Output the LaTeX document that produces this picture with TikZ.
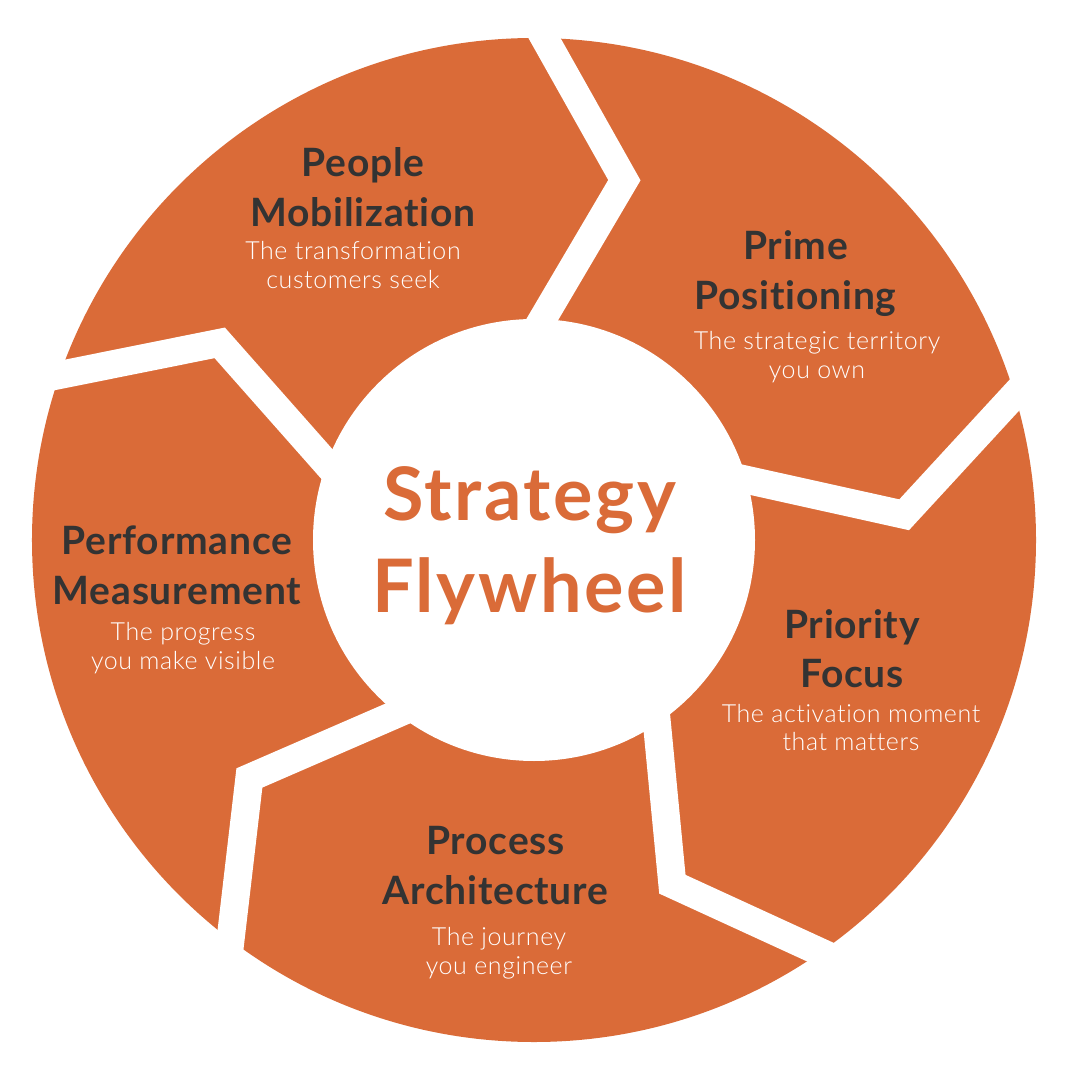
\documentclass[tikz,border=0pt]{standalone}
\usepackage{fontspec}
\setmainfont{Lato}
\newfontfamily\headfont{Lato}[LetterSpace=2, Ligatures=NoCommon]
\newfontfamily\hubfont{Lato}[LetterSpace=3.5, Ligatures=NoCommon]
\newfontfamily\lightfont{Lato Light}[LetterSpace=2.4, Ligatures=NoCommon]
\usepackage{xcolor}
\usepackage{tikz}
\usetikzlibrary{calc}

\definecolor{wheelorange}{RGB}{218,107,56}
\definecolor{labelgrey}{RGB}{51,51,51}

\begin{document}
\begin{tikzpicture}[
    headline/.style={font=\headfont\bfseries\fontsize{11.1}{14.2}\selectfont, text=labelgrey, align=center, inner sep=0pt},
    tagline/.style={font=\lightfont\fontsize{7.1}{8.2}\selectfont, text=white, align=center, inner sep=0pt},
    gapline/.style={white, line width=2.8mm, line join=miter}]
    \useasboundingbox (-5.34,-5.40) rectangle (5.46,5.40);
    \fill[wheelorange] (0,0) circle (5.02);
    % chevron gaps between the five segments
    \foreach \a in {88.8,16.8,-55.2,-127.2,160.8} {
        \coordinate (tip) at (\a-12.9:3.71);
        \draw[gapline] ($(tip)!1.3!(\a:5.02)$) -- (tip) -- ($(tip)!1.3!(\a-1:2.21)$);
    }
    \fill[white] (0,0) circle (2.21);
    \node[font=\hubfont\bfseries\fontsize{21}{26.1}\selectfont, text=wheelorange, align=center, inner sep=0pt] (hub) at (-0.045,-0.06) {Strategy\\Flywheel};

    \node[headline] (people) at (-1.71,3.53) {People\\Mobilization};
    \node[tagline] (peoplesub) at (-1.81,2.75) {The transformation\\customers seek};
    \node[headline] (prime) at (2.616,2.665) {Prime\\Positioning};
    \node[tagline] (primesub) at (2.83,1.83) {The strategic territory\\you own};
    \node[headline] (priority) at (3.18,-1.087) {Priority\\Focus};
    \node[tagline] (prioritysub) at (3.17,-1.875) {The activation moment\\that matters};
    \node[headline] (process) at (-0.385,-3.255) {Process\\Architecture};
    \node[tagline] (processsub) at (-0.35,-4.13) {The journey\\you engineer};
    \node[headline] (perf) at (-3.57,-0.25) {Performance\\Measurement};
    \node[tagline] (perfsub) at (-3.51,-1.08) {The progress\\you make visible};
\end{tikzpicture}
\end{document}
